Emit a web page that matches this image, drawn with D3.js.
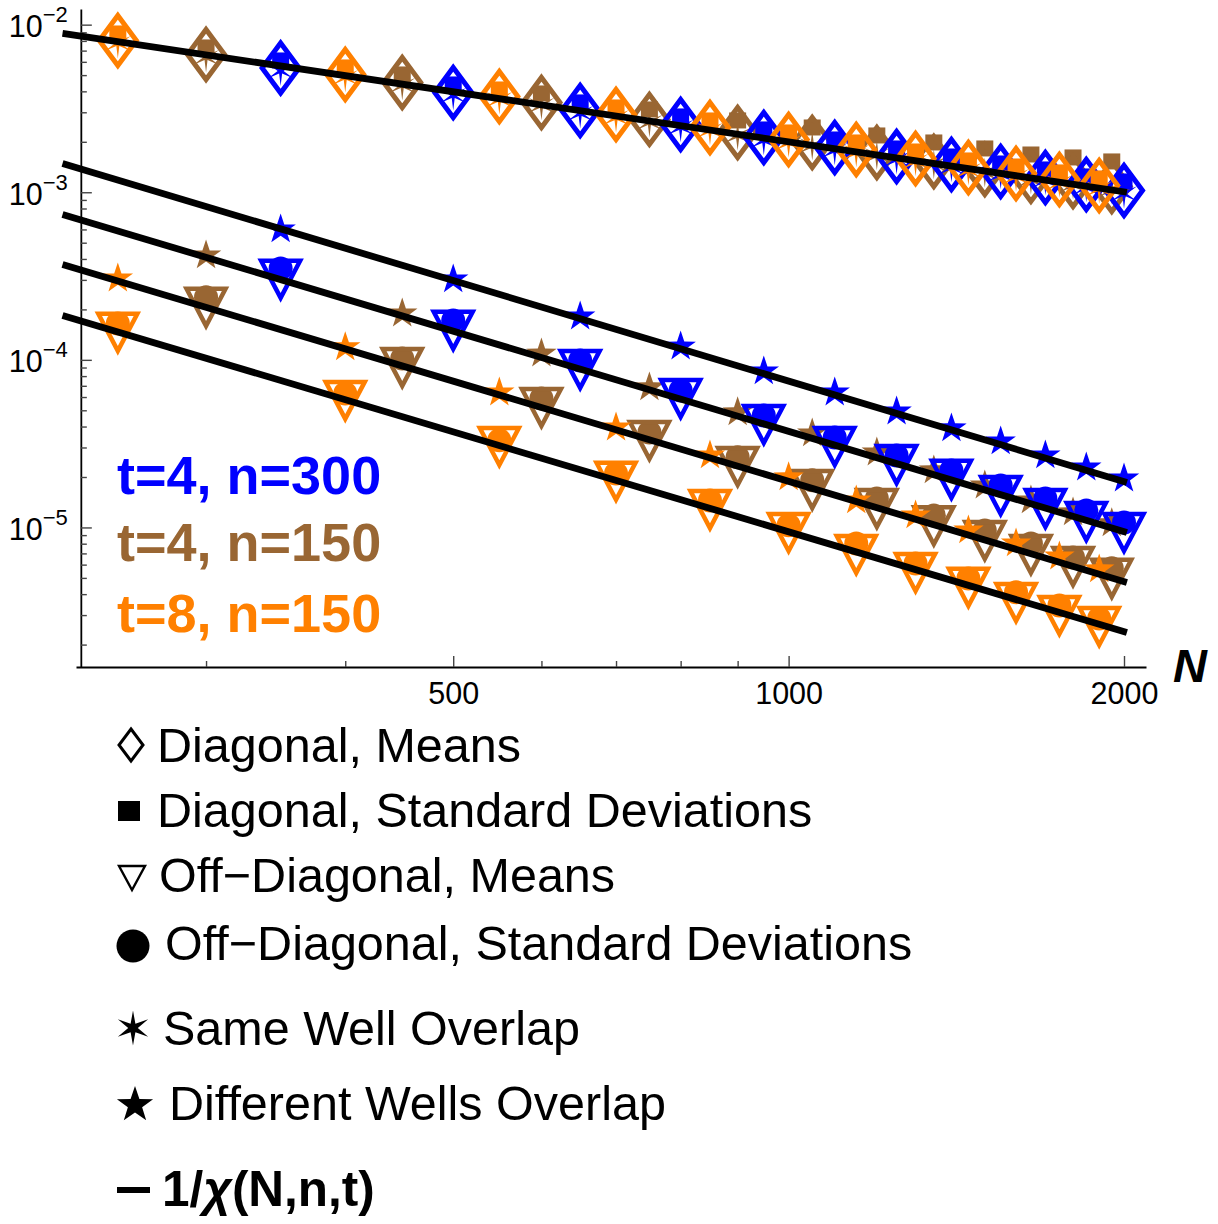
<!DOCTYPE html>
<html>
<head>
<meta charset="utf-8">
<script src="https://cdn.jsdelivr.net/npm/d3@7"></script>
<style>
  body { margin: 0; background: #fff; }
  svg { display: block; font-family: "Liberation Sans", Arial, sans-serif; }
</style>
</head>
<body>
<div id="chart"></div>
<script>
// Sample sizes N of the three runs
const nBlue   = [350, 500, 650, 800, 950, 1100, 1250, 1400, 1550, 1700, 1850, 2000];
const nBrown  = [300, 450, 600, 750, 900, 1050, 1200, 1350, 1500, 1650, 1800, 1950];
const nOrange = [250, 400, 550, 700, 850, 1000, 1150, 1300, 1450, 1600, 1750, 1900];

// t=4, n=300
const diagMeansBlue = [5.515e-3, 3.94e-3, 3.076e-3, 2.538e-3, 2.123e-3, 1.85e-3, 1.635e-3, 1.465e-3, 1.33e-3, 1.226e-3, 1.113e-3, 1.025e-3];
const diagSDBlue    = [6.115e-3, 4.397e-3, 3.435e-3, 2.834e-3, 2.37e-3, 2.065e-3, 1.825e-3, 1.635e-3, 1.485e-3, 1.368e-3, 1.243e-3, 1.16e-3];
const sameWellBlue  = [5.29e-3, 3.78e-3, 2.95e-3, 2.44e-3, 2.04e-3, 1.78e-3, 1.57e-3, 1.41e-3, 1.28e-3, 1.18e-3, 1.07e-3, 0.98e-3];
const offMeansBlue  = [2.98e-4, 1.48e-4, 8.65e-5, 5.80e-5, 4.06e-5, 3.00e-5, 2.34e-5, 1.91e-5, 1.53e-5, 1.28e-5, 1.07e-5, 9.21e-6];
const offSDBlue     = [3.51e-4, 1.72e-4, 9.92e-5, 6.57e-5, 4.66e-5, 3.44e-5, 2.69e-5, 2.19e-5, 1.78e-5, 1.49e-5, 1.26e-5, 1.07e-5];
const diffWellsBlue = [6.00e-4, 3.02e-4, 1.815e-4, 1.20e-4, 8.53e-5, 6.39e-5, 4.92e-5, 3.90e-5, 3.26e-5, 2.69e-5, 2.28e-5, 1.96e-5];

// t=4, n=150
const diagMeansBrown = [6.64e-3, 4.52e-3, 3.435e-3, 2.72e-3, 2.274e-3, 1.982e-3, 1.728e-3, 1.527e-3, 1.368e-3, 1.243e-3, 1.16e-3, 1.083e-3];
const diagSDBrown    = [7.31e-3, 5.045e-3, 3.886e-3, 3.119e-3, 2.682e-3, 2.435e-3, 2.182e-3, 1.982e-3, 1.825e-3, 1.68e-3, 1.613e-3, 1.527e-3];
const sameWellBrown  = [6.37e-3, 4.34e-3, 3.30e-3, 2.61e-3, 2.18e-3, 1.90e-3, 1.66e-3, 1.47e-3, 1.31e-3, 1.19e-3, 1.11e-3, 1.04e-3];
const offMeansBrown  = [2.03e-4, 8.89e-5, 5.13e-5, 3.26e-5, 2.28e-5, 1.66e-5, 1.28e-5, 1.01e-5, 8.25e-6, 6.81e-6, 5.77e-6, 4.90e-6];
const offSDBrown     = [2.36e-4, 1.02e-4, 5.88e-5, 3.69e-5, 2.62e-5, 1.91e-5, 1.49e-5, 1.18e-5, 9.60e-6, 8.03e-6, 6.62e-6, 5.70e-6];
const diffWellsBrown = [4.20e-4, 1.89e-4, 1.09e-4, 6.85e-5, 4.86e-5, 3.64e-5, 2.80e-5, 2.19e-5, 1.78e-5, 1.45e-5, 1.23e-5, 1.06e-5];

// t=8, n=150
const diagMeansOrange = [8.05e-3, 5.04e-3, 3.73e-3, 2.91e-3, 2.435e-3, 2.065e-3, 1.80e-3, 1.59e-3, 1.406e-3, 1.295e-3, 1.192e-3, 1.098e-3];
const diagSDOrange    = [8.86e-3, 5.555e-3, 4.105e-3, 3.206e-3, 2.682e-3, 2.274e-3, 1.982e-3, 1.751e-3, 1.548e-3, 1.425e-3, 1.313e-3, 1.209e-3];
const sameWellOrange  = [7.73e-3, 4.84e-3, 3.58e-3, 2.79e-3, 2.34e-3, 1.98e-3, 1.73e-3, 1.53e-3, 1.35e-3, 1.24e-3, 1.14e-3, 1.05e-3];
const offMeansOrange  = [1.44e-4, 5.65e-5, 3.00e-5, 1.86e-5, 1.26e-5, 9.21e-6, 6.81e-6, 5.31e-6, 4.33e-6, 3.52e-6, 2.94e-6, 2.53e-6];
const offSDOrange     = [1.65e-4, 6.30e-5, 3.31e-5, 2.10e-5, 1.45e-5, 1.03e-5, 8.03e-6, 6.10e-6, 4.96e-6, 4.10e-6, 3.42e-6, 2.86e-6];
const diffWellsOrange = [3.06e-4, 1.19e-4, 6.39e-5, 3.95e-5, 2.69e-5, 1.99e-5, 1.45e-5, 1.18e-5, 9.60e-6, 8.03e-6, 6.71e-6, 5.62e-6];

// 1/chi(N,n,t) curves (straight on log-log), ends at N = fitN
const fitN = [223, 2012];
const fitCurves = [
  [8.86e-3, 1.0e-3],
  [1.485e-3, 1.856e-5],
  [7.37e-4, 9.34e-6],
  [3.71e-4, 4.70e-6],
  [1.84e-4, 2.36e-6]
];

// axes
const xDomain = [229.3, 2093];
const yDomain = [1.47e-6, 1.24e-2];
const axisOriginN = 231.6;
const xMajorTicks = [500, 1000, 2000];
const xMinorTicks = [300, 400, 600, 700, 800, 900];
const yMajorTicks = [1e-5, 1e-4, 1e-3, 1e-2];
const yTickExponents = ["\u22125", "\u22124", "\u22123", "\u22122"];

const annotations = ["t=4, n=300", "t=4, n=150", "t=8, n=150"];
const legendLabels = [
  "Diagonal, Means",
  "Diagonal, Standard Deviations",
  "Off\u2212Diagonal, Means",
  "Off\u2212Diagonal, Standard Deviations",
  "Same Well Overlap",
  "Different Wells Overlap"
];

const blue = "#0000ff", brown = "#996633", orange = "#ff8000";

const series = [
  {color: brown, n: nBrown, diagMeans: diagMeansBrown, diagSD: diagSDBrown, sameWell: sameWellBrown,
   offMeans: offMeansBrown, offSD: offSDBrown, diffWells: diffWellsBrown},
  {color: blue, n: nBlue, diagMeans: diagMeansBlue, diagSD: diagSDBlue, sameWell: sameWellBlue,
   offMeans: offMeansBlue, offSD: offSDBlue, diffWells: diffWellsBlue},
  {color: orange, n: nOrange, diagMeans: diagMeansOrange, diagSD: diagSDOrange, sameWell: sameWellOrange,
   offMeans: offMeansOrange, offSD: offSDOrange, diffWells: diffWellsOrange}
];

const width = 1218, height = 1224;

const svg = d3.select("#chart")
  .append("svg")
    .attr("width", width)
    .attr("height", height);

const x = d3.scaleLog().domain(xDomain).range([76, 1146]);
const y = d3.scaleLog().domain(yDomain).range([667, 9]);

// marker shapes
function diamond(w, h) { return `M0,${-h}L${w},0L0,${h}L${-w},0Z`; }
function triDown(w, top, bottom) { return `M${-w},${-top}L${w},${-top}L0,${bottom}Z`; }
function star(points, R, r) {
  let p = "";
  for (let i = 0; i < points * 2; i++) {
    const a = -Math.PI / 2 + i * Math.PI / points;
    const rad = i % 2 ? r : R;
    p += (i ? "L" : "M") + (rad * Math.cos(a)).toFixed(2) + "," + (rad * Math.sin(a)).toFixed(2);
  }
  return p + "Z";
}

// axes
const xAxisG = svg.append("g")
  .attr("transform", `translate(0,${y(yDomain[0])})`)
  .call(d3.axisBottom(x).tickValues(xMajorTicks).tickSizeInner(-11).tickSizeOuter(0)
    .tickPadding(15).tickFormat(d3.format("d")));
xAxisG.selectAll(".tick text").attr("font-size", 30.5).attr("fill", "#000");

svg.append("g")
  .attr("transform", `translate(0,${y(yDomain[0])})`)
  .call(d3.axisBottom(x).tickValues(xMinorTicks).tickSizeInner(-6).tickSizeOuter(0).tickFormat(""))
  .select(".domain").remove();

const yMinorTicks = [2, 3, 4, 5, 6, 7, 8, 9]
  .flatMap(m => [1e-6, 1e-5, 1e-4, 1e-3].map(p => m * p))
  .filter(v => v > yDomain[0] && v < yDomain[1]);

const yAxisG = svg.append("g")
  .attr("transform", `translate(${x(axisOriginN)},0)`)
  .call(d3.axisLeft(y).tickValues(yMajorTicks).tickSizeInner(-11).tickSizeOuter(0).tickFormat(""));

yAxisG.selectAll(".tick text").remove();
yAxisG.selectAll(".tick").append("text")
  .attr("x", -13)
  .attr("y", 12)
  .attr("text-anchor", "end")
  .attr("fill", "#000")
  .attr("font-size", 30.5)
  .each(function(d, i) {
    const t = d3.select(this);
    t.append("tspan").text("10");
    t.append("tspan").attr("dy", -15).attr("font-size", 22).text(yTickExponents[i]);
  });

svg.append("g")
  .attr("transform", `translate(${x(axisOriginN)},0)`)
  .call(d3.axisLeft(y).tickValues(yMinorTicks).tickSizeInner(-6).tickSizeOuter(0).tickFormat(""))
  .select(".domain").remove();

svg.selectAll(".domain").attr("stroke", "#000").attr("stroke-width", 1.8);
svg.selectAll(".tick line").attr("stroke", "#444").attr("stroke-width", 1.4);

// axis name
svg.append("text")
  .attr("x", x(xDomain[1]) + 27)
  .attr("y", y(yDomain[0]) + 15)
  .attr("font-size", 47)
  .attr("font-weight", "bold")
  .attr("font-style", "italic")
  .text("N");

// data markers
const plot = svg.append("g");
series.forEach(s => {
  const g = plot.append("g");
  const pts = key => s.n.map((n, i) => [n, s[key][i]]);
  const place = d => `translate(${x(d[0])},${y(d[1])})`;

  g.selectAll(null).data(pts("sameWell")).join("path")
    .attr("d", star(6, 15, 3)).attr("transform", place).attr("fill", s.color);
  g.selectAll(null).data(pts("diagSD")).join("rect")
    .attr("x", d => x(d[0]) - 8.5).attr("y", d => y(d[1]) - 8)
    .attr("width", 17).attr("height", 16).attr("fill", s.color);
  g.selectAll(null).data(pts("diagMeans")).join("path")
    .attr("d", diamond(18.5, 25)).attr("transform", place)
    .attr("fill", "none").attr("stroke", s.color).attr("stroke-width", 5);

  g.selectAll(null).data(pts("diffWells")).join("path")
    .attr("d", star(5, 16, 6.2)).attr("transform", place).attr("fill", s.color);
  g.selectAll(null).data(pts("offSD")).join("circle")
    .attr("cx", d => x(d[0])).attr("cy", d => y(d[1])).attr("r", 12).attr("fill", s.color);
  g.selectAll(null).data(pts("offMeans")).join("path")
    .attr("d", triDown(19.5, 19.5, 17.5)).attr("transform", place)
    .attr("fill", "none").attr("stroke", s.color).attr("stroke-width", 4.5);
});

// 1/chi curves on top
const line = d3.line().x(d => x(d[0])).y(d => y(d[1]));
svg.append("g").selectAll("path")
  .data(fitCurves.map(c => fitN.map((n, i) => [n, c[i]])))
  .join("path")
    .attr("d", line)
    .attr("fill", "none")
    .attr("stroke", "#000")
    .attr("stroke-width", 6.8);

// parameter labels
svg.append("g").selectAll("text")
  .data(annotations)
  .join("text")
    .attr("x", 117)
    .attr("y", (d, i) => [494, 561, 632][i])
    .attr("font-size", 54)
    .attr("font-weight", "bold")
    .attr("fill", (d, i) => [blue, brown, orange][i])
    .text(d => d);

// legend
const legend = svg.append("g");
const rowY = [762, 827, 892, 960, 1045, 1120];
const textX = [157, 157, 159, 165, 163, 169];
legend.selectAll("text.lbl")
  .data(legendLabels)
  .join("text")
    .attr("class", "lbl")
    .attr("x", (d, i) => textX[i])
    .attr("y", (d, i) => rowY[i])
    .attr("font-size", 48.5)
    .text(d => d);

legend.append("path").attr("d", diamond(12, 16)).attr("transform", "translate(131,745)")
  .attr("fill", "none").attr("stroke", "#000").attr("stroke-width", 3);
legend.append("rect").attr("x", 118).attr("y", 801).attr("width", 22).attr("height", 20).attr("fill", "#000");
legend.append("path").attr("d", triDown(13, 11, 13)).attr("transform", "translate(132,877)")
  .attr("fill", "none").attr("stroke", "#000").attr("stroke-width", 2.4);
legend.append("circle").attr("cx", 133).attr("cy", 946).attr("r", 16.5).attr("fill", "#000");
legend.append("path").attr("d", star(6, 17.5, 4.8)).attr("transform", "translate(133,1028)").attr("fill", "#000");
legend.append("path").attr("d", star(5, 19, 7.5)).attr("transform", "translate(135,1105)").attr("fill", "#000");

legend.append("line").attr("x1", 117).attr("x2", 150).attr("y1", 1190).attr("y2", 1190)
  .attr("stroke", "#000").attr("stroke-width", 6);
const chiText = legend.append("text").attr("x", 162).attr("y", 1206)
  .attr("font-size", 49.5).attr("font-weight", "bold");
chiText.append("tspan").text("1/");
chiText.append("tspan").attr("font-style", "italic").text("\u03c7");
chiText.append("tspan").text("(N,n,t)");
</script>
</body>
</html>
